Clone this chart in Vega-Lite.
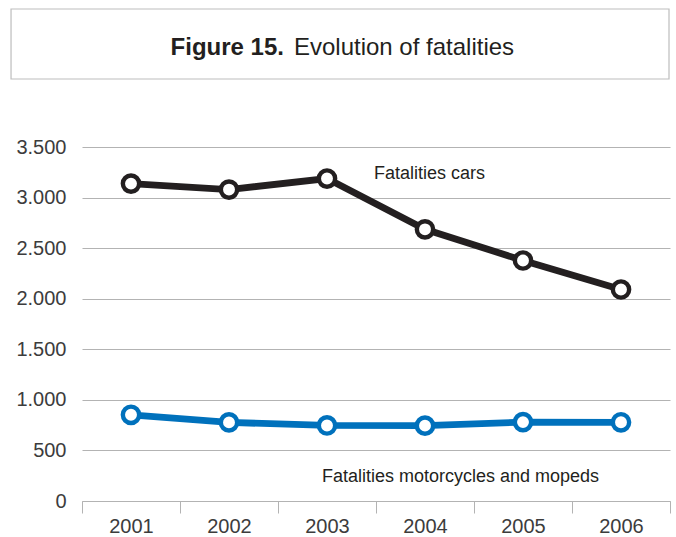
{
  "$schema": "https://vega.github.io/schema/vega-lite/v6.json",
  "padding": {"left": 10, "top": 8, "right": 4, "bottom": 0},
  "background": "white",
  "config": {
    "locale": {"number": {"decimal": ",", "thousands": ".", "grouping": [3], "currency": ["", " €"]}},
    "font": "Liberation Sans",
    "view": {"stroke": null}
  },
  "columns": 1,
  "spacing": 57,
  "concat": [
    {
      "width": 588,
      "height": 70,
      "data": {"values": [{"title": "Figure 15.", "sub": "Evolution of fatalities"}]},
      "encoding": {
        "y": {"datum": 0.343, "type": "quantitative", "scale": {"domain": [0, 1], "nice": false, "zero": false}, "axis": null}
      },
      "layer": [
        {
          "mark": {"type": "rect", "fill": null, "stroke": "#bdbdbd", "strokeWidth": 1.2},
          "encoding": {
            "x": {"datum": -0.1207, "type": "quantitative", "scale": {"domain": [0, 1], "nice": false, "zero": false}, "axis": null},
            "x2": {"datum": 0.9983},
            "y": {"datum": 0, "type": "quantitative"},
            "y2": {"datum": 1}
          }
        },
        {
          "mark": {"type": "text", "align": "right", "baseline": "alphabetic", "fontWeight": "bold", "fontSize": 24, "color": "#231f20"},
          "encoding": {
            "text": {"field": "title"},
            "x": {"datum": 0.3435, "type": "quantitative"}
          }
        },
        {
          "mark": {"type": "text", "align": "left", "baseline": "alphabetic", "fontSize": 24, "color": "#231f20"},
          "encoding": {
            "text": {"field": "sub"},
            "x": {"datum": 0.3605, "type": "quantitative"}
          }
        }
      ]
    },
    {
      "width": 588,
      "height": 354,
      "layer": [
        {
          "data": {"values": [
            {"year": "2001", "series": "cars", "value": 3138},
            {"year": "2002", "series": "cars", "value": 3079},
            {"year": "2003", "series": "cars", "value": 3188},
            {"year": "2004", "series": "cars", "value": 2686},
            {"year": "2005", "series": "cars", "value": 2378},
            {"year": "2006", "series": "cars", "value": 2091},
            {"year": "2001", "series": "motorcycles", "value": 852},
            {"year": "2002", "series": "motorcycles", "value": 777},
            {"year": "2003", "series": "motorcycles", "value": 747},
            {"year": "2004", "series": "motorcycles", "value": 745},
            {"year": "2005", "series": "motorcycles", "value": 780},
            {"year": "2006", "series": "motorcycles", "value": 778}
          ]},
          "encoding": {
            "x": {"field": "year", "type": "ordinal", "scale": {"type": "band", "paddingInner": 0, "paddingOuter": 0},
              "axis": {"title": null, "tickBand": "extent", "labelAngle": 0, "tickSize": 12, "domainColor": "#b3b3b3", "tickColor": "#b3b3b3", "labelFontSize": 20, "labelColor": "#3c3c3c", "labelPadding": 3, "grid": false}},
            "y": {"field": "value", "type": "quantitative", "scale": {"domain": [0, 3500], "nice": false},
              "axis": {"title": null, "values": [0, 500, 1000, 1500, 2000, 2500, 3000, 3500], "format": ",d", "domain": false, "ticks": false, "labelPadding": 16, "gridColor": "#b3b3b3", "labelFontSize": 20, "labelColor": "#3c3c3c"}}
          },
          "layer": [
            {
              "mark": {"type": "line", "strokeWidth": 6.8},
              "encoding": {
                "color": {"field": "series", "type": "nominal", "scale": {"domain": ["cars", "motorcycles"], "range": ["#231f20", "#0071bc"]}, "legend": null}
              }
            },
            {
              "mark": {"type": "point", "shape": "circle", "filled": false, "fill": "white", "fillOpacity": 1, "opacity": 1, "strokeWidth": 4.4, "size": 266},
              "encoding": {
                "stroke": {"field": "series", "type": "nominal", "scale": {"domain": ["cars", "motorcycles"], "range": ["#231f20", "#0071bc"]}, "legend": null}
              }
            }
          ]
        },
        {
          "data": {"values": [{"label": "Fatalities cars"}]},
          "mark": {"type": "text", "align": "left", "baseline": "middle", "fontSize": 18, "color": "#231f20", "dx": 47},
          "encoding": {
            "text": {"field": "label"},
            "x": {"datum": "2003", "type": "ordinal"},
            "y": {"datum": 3233, "type": "quantitative"}
          }
        },
        {
          "data": {"values": [{"label": "Fatalities motorcycles and mopeds"}]},
          "mark": {"type": "text", "align": "left", "baseline": "middle", "fontSize": 18, "color": "#231f20", "dx": -5},
          "encoding": {
            "text": {"field": "label"},
            "x": {"datum": "2003", "type": "ordinal"},
            "y": {"datum": 237, "type": "quantitative"}
          }
        }
      ]
    }
  ]
}
